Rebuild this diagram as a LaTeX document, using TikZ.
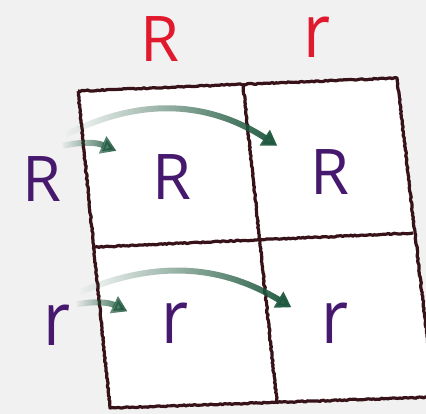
\documentclass[tikz,border=0pt]{standalone}
\usepackage{fontspec}
\setmainfont{Open Sans}
\usetikzlibrary{arrows.meta,fadings,decorations.pathmorphing}
\definecolor{allelered}{RGB}{225,25,45}
\definecolor{allelepurple}{RGB}{70,25,110}
\definecolor{gridbrown}{RGB}{55,18,24}
\definecolor{arrowgreen}{RGB}{30,88,62}
\newcommand{\tallr}{\scalebox{1.05}[1.18]{r}}
\begin{document}
\begin{tikzpicture}[x=1pt,y=-1pt,
    allele/.style={inner sep=0pt,anchor=base,font=\fontsize{63}{63}\selectfont},
    grid line/.style={draw=gridbrown,line width=3.2pt,line join=round,
      decorate,decoration={random steps,segment length=2pt,amplitude=0.6pt}},
    gene arrow/.style={draw=arrowgreen,line width=6pt,
      -{Triangle[length=15pt,width=18pt]},path fading=west}]
    \clip (0,0) rectangle (426,414);
    \fill[gray!11] (0,0) rectangle (426,414);
    % corners of the square
    \coordinate (tl) at (78,91);
    \coordinate (tm) at (243,84);
    \coordinate (tr) at (397,78);
    \coordinate (ml) at (95,247);
    \coordinate (mr) at (413,233);
    \coordinate (bl) at (110,408);
    \coordinate (bm) at (277,403);
    \coordinate (br) at (434,397);
    \fill[white] (tl) -- (tr) -- (br) -- (bl) -- cycle;
    \draw[grid line] (tl) -- (tr) -- (br);
    \draw[grid line] (tl) -- (bl) -- (br);
    \draw[grid line] (tm) -- (bm);
    \draw[grid line] (ml) -- (mr);
    % gametes
    \node[allele,allelered] (topR) at (160,62) {R};
    \node[allele,allelered] (topr) at (317,58) {\tallr};
    \node[allele,allelepurple] (leftR) at (42,202) {R};
    \node[allele,allelepurple] (leftr) at (57,345) {\tallr};
    % offspring
    \node[allele,allelepurple] (cRa) at (172,200) {R};
    \node[allele,allelepurple] (cRb) at (330,195) {R};
    \node[allele,allelepurple] (cra) at (175,343) {\tallr};
    \node[allele,allelepurple] (crb) at (335,343) {\tallr};
    % arrows
    \draw[gene arrow] ([shift={(1pt,11pt)}]leftR.north east) to[bend left=18] ([shift={(-36pt,4pt)}]cRa.north west);
    \draw[gene arrow] ([shift={(4pt,22pt)}]leftR.north east) to[bend left=30] ([shift={(-33pt,4pt)}]cRb.north west);
    \draw[gene arrow] ([shift={(6pt,0pt)}]leftr.north east) to[bend left=18] ([shift={(-34pt,-9pt)}]cra.north west);
    \draw[gene arrow] ([shift={(9pt,12pt)}]leftr.north east) to[bend left=27] ([shift={(-30pt,-5pt)}]crb.north west);
\end{tikzpicture}
\end{document}
